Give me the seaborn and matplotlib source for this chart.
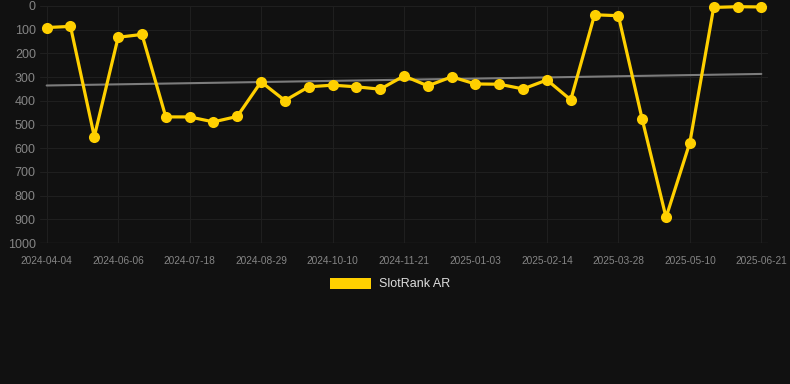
import numpy as np
import pandas as pd
import seaborn as sns
from matplotlib import pyplot as plt
from matplotlib.patches import Patch

dates = ['2024-04-04', '2024-04-25', '2024-05-16', '2024-06-06', '2024-06-20', '2024-07-04',
         '2024-07-18', '2024-08-01', '2024-08-15', '2024-08-29', '2024-09-12', '2024-09-26',
         '2024-10-10', '2024-10-24', '2024-11-07', '2024-11-21', '2024-12-05', '2024-12-19',
         '2025-01-03', '2025-01-17', '2025-01-31', '2025-02-14', '2025-02-28', '2025-03-14',
         '2025-03-28', '2025-04-11', '2025-04-25', '2025-05-10', '2025-05-24', '2025-06-07',
         '2025-06-21']
rank = [91, 86, 551, 132, 120, 468, 468, 489, 466, 320, 399, 341, 334, 341, 351, 295,
        337, 299, 329, 330, 350, 312, 396, 37, 41, 478, 892, 576, 6, 3, 4]
series_name = 'SlotRank AR'

df = pd.DataFrame({'date': dates, 'rank': rank})
df['idx'] = np.arange(len(df))

bg = '#111111'
yellow = '#FFD000'
sns.set_style('dark')
plt.rcParams['font.family'] = ['Liberation Sans', 'DejaVu Sans']

fig = plt.figure(figsize=(7.9, 3.84), dpi=100, facecolor=bg)
ax = fig.add_axes([40 / 790, 141 / 384, 728 / 790, 237 / 384])
ax.set_facecolor(bg)

# trend line under the series
sns.regplot(data=df, x='idx', y='rank', scatter=False, ci=None, ax=ax,
            line_kws=dict(color='#7c7c7c', lw=1.5, zorder=2))
sns.lineplot(data=df, x='idx', y='rank', ax=ax, color=yellow, lw=2.3, marker='o',
             markersize=8, markeredgewidth=0, zorder=3, clip_on=False)

ax.set_ylim(1000, 0)
ax.set_xlim(-0.28, 30.28)
ax.set_yticks(np.arange(0, 1001, 100))
ax.set_xticks(df['idx'][::3])
ax.set_xticklabels(df['date'][::3])
ax.tick_params(axis='y', length=0, pad=3, labelsize=9, labelcolor='#858585')
ax.tick_params(axis='x', length=0, pad=9, labelsize=7.3, labelcolor='#858585')
ax.grid(True, color='#1f1f1f', lw=0.8)
ax.set_axisbelow(True)
for s in ax.spines.values():
    s.set_visible(False)
ax.set_xlabel('')
ax.set_ylabel('')
ax.axhline(1000, color='#282828', lw=1, zorder=1)

fig.legend(handles=[Patch(facecolor=yellow, edgecolor='none', label=series_name)],
           loc='center', bbox_to_anchor=(390 / 790, 1 - 284 / 384), frameon=False,
           fontsize=9, labelcolor='#dddddd', handlelength=3.3, handleheight=1.0,
           handletextpad=0.6)

plt.savefig('out.png', dpi=100, facecolor=bg)
